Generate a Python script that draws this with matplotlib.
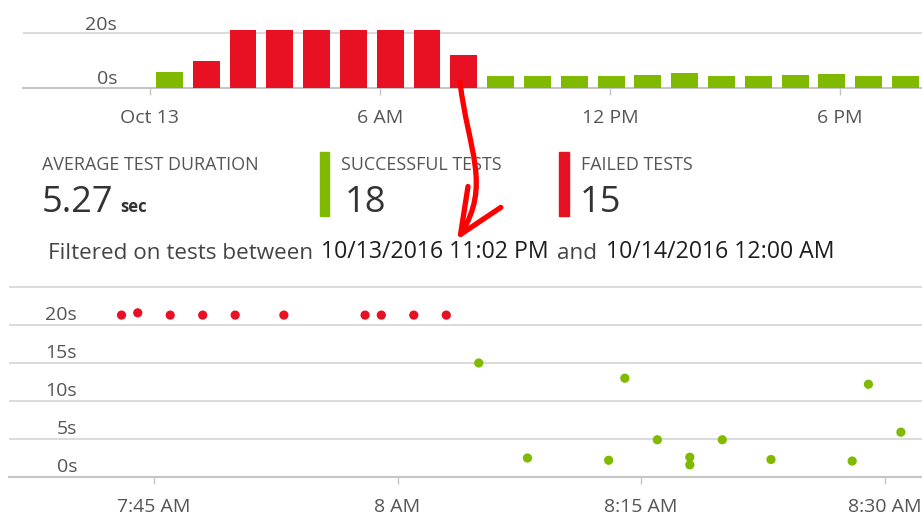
import matplotlib
matplotlib.use('Agg')
import matplotlib.pyplot as plt
import numpy as np
from matplotlib.patches import Rectangle, FancyArrowPatch
from matplotlib.path import Path
from matplotlib.transforms import ScaledTranslation

plt.rcParams['font.family'] = ['Open Sans', 'DejaVu Sans']

# top chart: average duration per time bucket (seconds)
bucket_durations = [5.8, 9.7, 21.0, 21.0, 21.0, 21.0, 21.0, 21.0, 12.0,
                    4.2, 4.2, 4.2, 4.2, 4.85, 5.3, 4.2, 4.2, 4.6, 5.2, 4.2, 4.2]
bucket_failed = [False] + [True] * 8 + [False] * 12
bucket_first = 0.51   # hours after Oct 13 00:00, centre of first bucket
bucket_step = 0.96    # hours between buckets
top_ticks = [0, 6, 12, 18]
top_tick_labels = ['Oct 13', '6 AM', '12 PM', '6 PM']
top_yticks = [0, 20]
top_ytick_labels = ['0s', '20s']

# bottom chart: single test runs
failed_times = ['7:43', '7:44', '7:46', '7:48', '7:50', '7:53', '7:58', '7:59', '8:01', '8:03']
failed_durations = [21.3, 21.6, 21.3, 21.3, 21.3, 21.3, 21.3, 21.3, 21.3, 21.3]
passed_times = ['8:05', '8:08', '8:13', '8:14', '8:16', '8:18', '8:18', '8:20',
                '8:23', '8:28', '8:29', '8:31']
passed_durations = [15.0, 2.5, 2.2, 13.0, 4.9, 2.6, 1.6, 4.9, 2.3, 2.1, 12.2, 5.9]
scatter_ticks = ['7:45', '8:00', '8:15', '8:30']
scatter_tick_labels = ['7:45 AM', '8 AM', '8:15 AM', '8:30 AM']
scatter_yticks = [0, 5, 10, 15, 20, 25]
scatter_ytick_labels = ['0s', '5s', '10s', '15s', '20s', '']

# summary numbers
avg_duration = '5.27'
successful_count = '18'
failed_count = '15'
filter_parts = ['Filtered on tests between', '10/13/2016 11:02 PM', 'and', '10/14/2016 12:00 AM']

GREEN = '#7fba00'
RED = '#e81123'
GRID = '#d4d4d4'
LABEL = '#555555'
W, H = 922, 519


def to_min(s):
    h, m = s.split(':')
    return int(h) * 60 + int(m)


def fx(x):
    return x / W


def fy(y):
    return 1 - y / H


def shift_ylabels(ax, dx, dy):
    # move y labels inside the plot and above their grid line
    off = ScaledTranslation(dx / 100, dy / 100, fig.dpi_scale_trans)
    for lab in ax.get_yticklabels():
        lab.set_transform(lab.get_transform() + off)


def style_axes(ax):
    for s in ['top', 'right', 'left']:
        ax.spines[s].set_visible(False)
    ax.spines['bottom'].set_color('#c6c6c6')
    ax.spines['bottom'].set_linewidth(1.5)
    ax.yaxis.grid(True, color=GRID, linewidth=1.2)
    ax.set_axisbelow(True)
    ax.tick_params(axis='y', length=0, pad=0, labelsize=14, labelcolor=LABEL)
    ax.tick_params(axis='x', length=5, width=1, color='#c6c6c6', pad=10,
                   labelsize=14, labelcolor=LABEL)


fig = plt.figure(figsize=(9.22, 5.19), dpi=100)

# ---- top bar chart
ax1 = fig.add_axes([fx(23), fy(88), 1 - fx(23), 83 / H])
style_axes(ax1)
centres = bucket_first + bucket_step * np.arange(len(bucket_durations))
colors = [RED if f else GREEN for f in bucket_failed]
ax1.bar(centres, bucket_durations, width=0.70, color=colors, zorder=3)
ax1.set_xlim(-3.31, 20.14)
ax1.set_ylim(0, 30.2)
ax1.set_xticks(top_ticks, top_tick_labels)
ax1.set_yticks(top_yticks, top_ytick_labels)
shift_ylabels(ax1, 94, 10.5)

# ---- summary block
fig.text(fx(42), fy(170), 'AVERAGE TEST DURATION', fontsize=12.9, color=LABEL, va='baseline')
fig.text(fx(42), fy(212), avg_duration, fontsize=26, color='#333333', va='baseline')
fig.text(fx(120), fy(212), 'sec', fontsize=12, color='#333333', weight='bold', va='baseline')

fig.add_artist(Rectangle((fx(320), fy(216)), 9 / W, 64 / H, color=GREEN, transform=fig.transFigure))
fig.text(fx(341), fy(170), 'SUCCESSFUL TESTS', fontsize=12.9, color=LABEL, va='baseline')
fig.text(fx(345), fy(212), successful_count, fontsize=26, color='#333333', va='baseline')

fig.add_artist(Rectangle((fx(559), fy(216)), 10 / W, 64 / H, color=RED, transform=fig.transFigure))
fig.text(fx(581), fy(170), 'FAILED TESTS', fontsize=12.9, color=LABEL, va='baseline')
fig.text(fx(580), fy(212), failed_count, fontsize=26, color='#333333', va='baseline')

# filter sentence, pieces placed one after another
prev = fig.text(fx(48), fy(259), filter_parts[0], fontsize=16.2, color='#444444', va='baseline')
for part in filter_parts[1:]:
    is_and = part == 'and'
    prev = plt.annotate(part, xy=(1, 0), xycoords=prev, xytext=(6, 0),
                        textcoords='offset points', fontsize=16.2 if is_and else 16.7,
                        color='#444444' if is_and else '#1e1e1e',
                        va='bottom', ha='left', annotation_clip=False)

# ---- bottom scatter chart
ax2 = fig.add_axes([fx(9), fy(477), 1 - fx(9), 192.3 / H])
style_axes(ax2)
ax2.scatter([to_min(s) for s in failed_times], failed_durations, s=44, color=RED,
            edgecolors='none', zorder=3, clip_on=False)
ax2.scatter([to_min(s) for s in passed_times], passed_durations, s=44, color=GREEN,
            edgecolors='none', zorder=3, clip_on=False)
x0 = to_min('7:45')
ax2.set_xlim(x0 - 8.93, x0 + 47.3)
ax2.set_ylim(0, 25.3)
ax2.set_xticks([to_min(s) for s in scatter_ticks], scatter_tick_labels)
ax2.set_yticks(scatter_yticks, scatter_ytick_labels)
shift_ylabels(ax2, 68, 12)

# ---- red hand-drawn arrow from the bar to the filter text
pts = [(460, 82), (468, 150), (492, 185), (457, 240)]
verts = [(fx(x), fy(y)) for x, y in pts]
arrow = FancyArrowPatch(path=Path(verts, [Path.MOVETO, Path.CURVE4, Path.CURVE4, Path.CURVE4]),
                        arrowstyle='->,head_length=1.6,head_width=0.7', mutation_scale=20,
                        color='#ff0000', linewidth=3.8, capstyle='round', joinstyle='round',
                        transform=fig.transFigure, zorder=10)
fig.add_artist(arrow)

fig.savefig('out.png', dpi=100)
